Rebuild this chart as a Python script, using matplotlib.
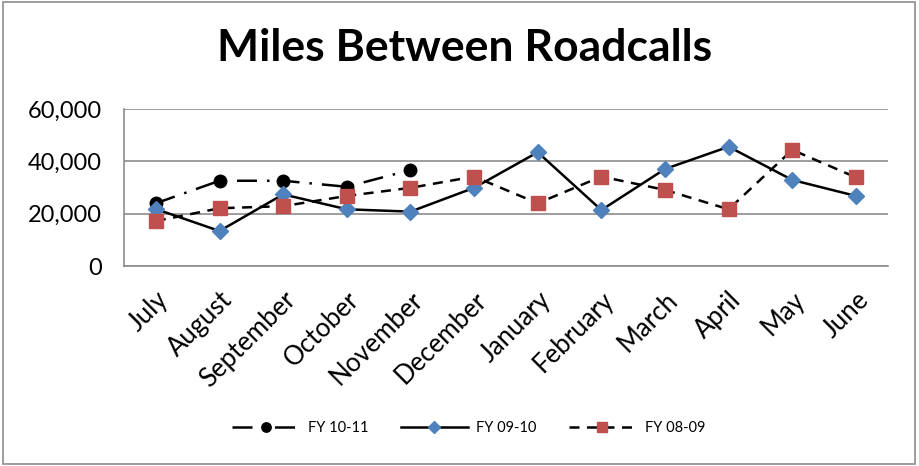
import matplotlib.pyplot as plt
from matplotlib.patches import Rectangle

plt.rcParams['font.family'] = ['Lato', 'DejaVu Sans']

months = ["July", "August", "September", "October", "November", "December",
          "January", "February", "March", "April", "May", "June"]

# FY 10-11 only has data through November
fy_10_11 = [24000, 32600, 32600, 30300, 36700]
fy_09_10 = [21800, 13400, 27400, 21700, 20800, 29900,
            43500, 21400, 37100, 45600, 32900, 26800]
fy_08_09 = [17200, 22100, 22900, 26800, 29900, 34200,
            24000, 34200, 29100, 21700, 44400, 33900]

y_ticks = [0, 20000, 40000, 60000]

fig = plt.figure(figsize=(9.19, 4.66), dpi=100)
ax = fig.add_axes([0.135, 0.429, 0.831, 0.337])

x = list(range(len(months)))

ax.plot(x[:len(fy_10_11)], fy_10_11, color="black", linestyle=(0, (8, 4, 1, 4)),
        linewidth=1.8, marker="o", markersize=9, markerfacecolor="black",
        markeredgecolor="black", label="FY 10-11", zorder=3)
ax.plot(x, fy_09_10, color="black", linestyle="-", linewidth=1.8,
        marker="D", markersize=8, markerfacecolor="#4F81BD",
        markeredgecolor="#4F81BD", label="FY 09-10", zorder=4)
ax.plot(x, fy_08_09, color="black", linestyle=(0, (4, 3)), linewidth=1.8,
        marker="s", markersize=10, markerfacecolor="#C0504D",
        markeredgecolor="#C0504D", label="FY 08-09", zorder=5)

ax.set_xlim(-0.5, len(months) - 0.5)
ax.set_ylim(0, 60000)
ax.set_yticks(y_ticks)
ax.set_yticklabels([f"{v:,}" for v in y_ticks], fontsize=17)
ax.set_xticks(x)
ax.set_xticklabels(months, fontsize=18.5, rotation=45, ha="right",
                   rotation_mode="anchor")
ax.tick_params(axis="y", length=0, pad=16)
ax.tick_params(axis="x", length=0, pad=15)

ax.grid(axis="y", color="#8c8c8c", linewidth=1.2)
ax.set_axisbelow(True)
for side in ["top", "right"]:
    ax.spines[side].set_visible(False)
for side in ["left", "bottom"]:
    ax.spines[side].set_color("#8c8c8c")
    ax.spines[side].set_linewidth(1.2)

fig.text(0.506, 0.897, "Miles Between Roadcalls", ha="center", va="center",
         fontsize=32, fontweight="bold")

fig.legend(loc="center", bbox_to_anchor=(0.51, 0.082), ncol=3,
           frameon=False, fontsize=10.5, handlelength=4.6, handletextpad=0.6,
           columnspacing=2.2, markerscale=0.75, bbox_transform=fig.transFigure)

# outer chart border
fig.patches.append(Rectangle((0.003, 0.005), 0.993, 0.99, transform=fig.transFigure,
                             fill=False, edgecolor="#8c8c8c", linewidth=1.2))

fig.savefig("out.png", dpi=100)
